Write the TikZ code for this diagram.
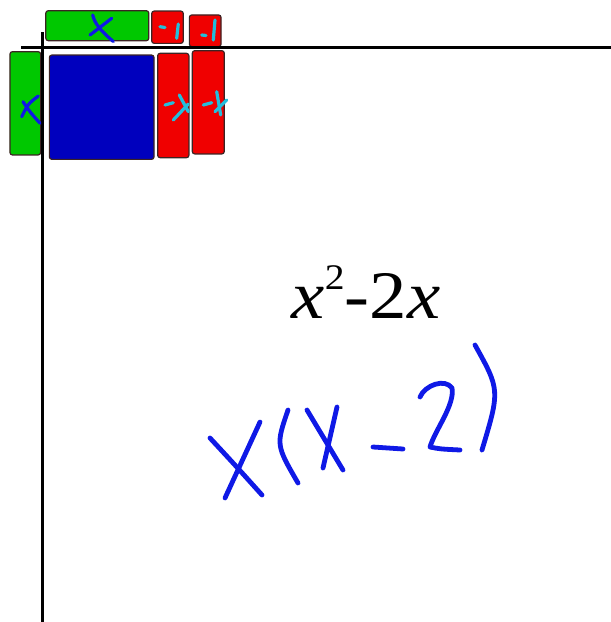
\documentclass[tikz,border=0pt]{standalone}
\usepackage{fontspec}
\setmainfont{Liberation Serif}
\definecolor{tgreen}{RGB}{0,200,0}
\definecolor{tred}{RGB}{240,0,0}
\definecolor{tblue}{RGB}{0,0,190}
\definecolor{tborder}{RGB}{60,35,35}
\definecolor{inkblue}{RGB}{15,25,230}
\definecolor{inkcyan}{RGB}{35,190,220}
\tikzset{
  tile/.style={draw=tborder, line width=1.2pt, rounded corners=2.5pt, inner sep=0pt, outer sep=0pt},
  greentile/.style={tile, fill=tgreen},
  redtile/.style={tile, fill=tred},
  bluetile/.style={tile, fill=tblue},
  axis/.style={line width=3pt, black},
  bluepen/.style={inkblue, line width=4.8pt, line cap=round, line join=round},
  smallblue/.style={inkblue, line width=3.2pt, line cap=round, line join=round},
  smallcyan/.style={inkcyan, line width=3.2pt, line cap=round, line join=round},
}
\begin{document}
\begin{tikzpicture}[x=1pt,y=-1pt]
\useasboundingbox (0,0) rectangle (611,622);
% tiles
\node[greentile, minimum width=103pt, minimum height=30pt] (gtop) at (97.3,25.7) {};
\node[redtile, minimum width=31.6pt, minimum height=32.3pt] (rs1) at (167.5,27.2) {};
\node[redtile, minimum width=31.7pt, minimum height=31.7pt] (rs2) at (205.2,30.8) {};
\node[greentile, minimum width=30.7pt, minimum height=103.3pt] (gleft) at (25.3,103.3) {};
\node[bluetile, minimum width=104.7pt, minimum height=104.3pt] (bsq) at (101.7,107.2) {};
\node[redtile, minimum width=31.3pt, minimum height=104.4pt] (rt1) at (173.3,105.5) {};
\node[redtile, minimum width=32pt, minimum height=103.3pt] (rt2) at (208.3,102.3) {};
% axes
\coordinate (hx0) at (21,47.5);
\coordinate (hx1) at (611,47.5);
\coordinate (vy0) at (42.5,32);
\coordinate (vy1) at (42.5,622);
\draw[axis] (hx0) -- (hx1);
\draw[axis] (vy0) -- (vy1);
% tile labels
\draw[smallblue] (92.7,15) .. controls (95,24) and (100,30) .. (113.3,41.5);
\draw[smallblue] (111.7,18.3) .. controls (103,25) .. (90,35);
\draw[smallcyan] (160,26.7) -- (165,27.5);
\draw[smallcyan] (178.3,24) .. controls (177.5,31) .. (176.7,38.3);
\draw[smallcyan] (201.7,35) -- (206,35.5);
\draw[smallcyan] (215,20) .. controls (214,30) .. (213.3,40);
\draw[smallblue] (38.3,96) .. controls (28,104) .. (21.7,116.7);
\draw[smallblue] (23,101.7) .. controls (30,112) .. (40,123.3);
\draw[smallcyan] (165,105) -- (173.3,102.7);
\draw[smallcyan] (179.3,95) .. controls (183,103) .. (188.3,111.7);
\draw[smallcyan] (188.3,104) .. controls (180,112) .. (173.3,120);
\draw[smallcyan] (203.3,105) -- (211.7,102.7);
\draw[smallcyan] (216.7,91.7) .. controls (218,104) .. (220.7,115);
\draw[smallcyan] (226.7,100) .. controls (221,106) .. (215,111.7);
% expression
\node[anchor=base, inner sep=0pt] (expr) at (366,318) {\scalebox{1.1}[1]{\fontsize{68}{80}\selectfont\textit{x}\raisebox{29pt}{\fontsize{36}{40}\selectfont 2}-2\textit{x}}};
% handwritten factorisation
\draw[bluepen] (210,438) .. controls (235,465) .. (262,495);
\draw[bluepen] (260,422) .. controls (242,460) .. (225,498);
\draw[bluepen] (288,410) .. controls (276,445) .. (298,483);
\draw[bluepen] (307,410) .. controls (325,440) .. (343,470);
\draw[bluepen] (337,407) .. controls (330,437) .. (323,468);
\draw[bluepen] (373,447) -- (403,449);
\draw[bluepen] (420,397) .. controls (425,385) and (445,378) .. (452,388) .. controls (455,405) and (435,430) .. (430,447) .. controls (440,449) .. (460,450);
\draw[bluepen] (475,345) .. controls (500,390) .. (482,450);
\end{tikzpicture}
\end{document}
